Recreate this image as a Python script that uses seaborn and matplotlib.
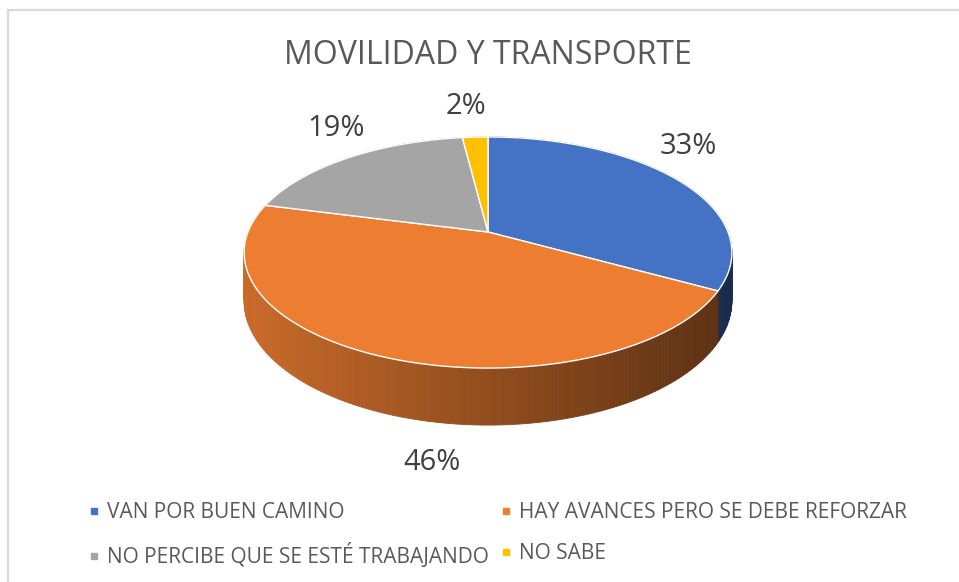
import numpy as np
import seaborn as sns
import matplotlib.pyplot as plt
from matplotlib.lines import Line2D

# datos
categorias = ["VAN POR BUEN CAMINO", "HAY AVANCES PERO SE DEBE REFORZAR",
              "NO PERCIBE QUE SE ESTÉ TRABAJANDO", "NO SABE"]
porcentajes = [33, 46, 19, 2]
colores = ["#4472C4", "#ED7D31", "#A5A5A5", "#FFC000"]
titulo = "MOVILIDAD Y TRANSPORTE"

sns.set_theme(style="white")
plt.rcParams["font.family"] = ["Open Sans", "DejaVu Sans"]

W, H = 959, 582
fig = plt.figure(figsize=(W / 100, H / 100), dpi=100)
ax = fig.add_axes([0, 0, 1, 1])
ax.set_xlim(0, W)
ax.set_ylim(H, 0)
ax.axis("off")

# pseudo-3d perspective of the pie
cx, cy = 488, 232
A, B, k = 240, 111.9, 0.1775
depth = 46.9


def proj(phi, r=1.0, drop=0.0):
    x = r * np.sin(phi)
    z = -r * np.cos(phi)
    d = 1 - k * z
    return cx + A * x / d, cy + (B * z + drop) / d


frac = np.array(porcentajes, dtype=float) / sum(porcentajes)
edges = np.concatenate([[0], np.cumsum(frac)]) * 2 * np.pi

# side wall, drawn back to front
segs = []
for i in range(len(porcentajes)):
    phis = np.linspace(edges[i], edges[i + 1], max(int(frac[i] * 400), 3))
    for a0, a1 in zip(phis[:-1], phis[1:]):
        zmid = -np.cos((a0 + a1) / 2)
        segs.append((zmid, a0, a1, i))
segs.sort()
rgb = [np.array(sns.color_palette([c])[0]) for c in colores]
for zmid, a0, a1, i in segs:
    x0, y0 = proj(a0)
    x1, y1 = proj(a1)
    x2, y2 = proj(a1, drop=depth)
    x3, y3 = proj(a0, drop=depth)
    t = ((x0 + x1) / 2 - 243) / 492
    shade = 0.85 - 0.47 * np.clip(t, 0, 1)
    col = np.clip(rgb[i] * shade, 0, 1)
    ax.fill([x0, x1, x2, x3], [y0, y1, y2, y3], color=col, lw=0.6, ec=col)

# top face
for i in range(len(porcentajes)):
    phis = np.linspace(edges[i], edges[i + 1], max(int(frac[i] * 400), 3))
    px, py = proj(phis)
    ax.fill(np.r_[cx, px], np.r_[cy, py], color=colores[i], ec="white", lw=1.0)

# data labels
pos_etiquetas = [(688, 147), (432, 463), (336, 129), (466, 107)]
for p, (lx, ly) in zip(porcentajes, pos_etiquetas):
    ax.text(lx, ly, f"{p}%", ha="center", va="center", fontsize=21, color="#404040")

ax.text(488, 56, titulo, ha="center", va="center", fontsize=23, color="#595959")

# chart frame
ax.plot([7, W], [10, 10], color="#D9D9D9", lw=1.6, solid_capstyle="butt")
ax.plot([8, 8], [10, H], color="#D9D9D9", lw=1.6, solid_capstyle="butt")

orden = [0, 2, 1, 3]
handles = [Line2D([], [], marker="s", ls="", color=colores[j], markersize=5) for j in orden]
fig.legend(handles, [categorias[j] for j in orden], ncol=2, loc="upper left",
           bbox_to_anchor=(80 / W, 1 - 494 / H), frameon=False, fontsize=15,
           labelcolor="#595959", handlelength=0.5, handletextpad=0.4,
           columnspacing=0.55, labelspacing=0.95, borderaxespad=0)

fig.savefig("out.png", dpi=100)
